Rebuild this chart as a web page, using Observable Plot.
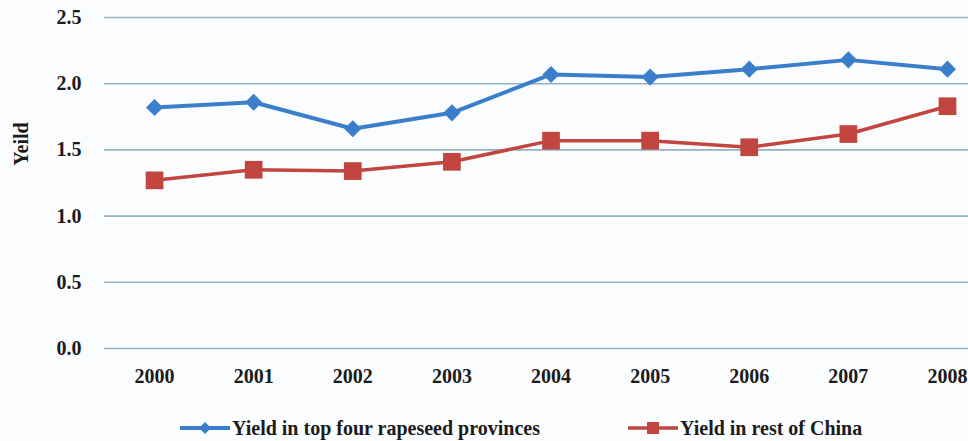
<!DOCTYPE html>
<html>
<head>
<meta charset="utf-8">
<script src="https://cdn.jsdelivr.net/npm/d3@7"></script>
<script src="https://cdn.jsdelivr.net/npm/@observablehq/plot@0.6"></script>
<style>
  html, body { margin: 0; padding: 0; background: #fbfcfe; font-family: "Liberation Serif", serif; }
  #chart { width: 968px; }
  .legend {
    position: relative; height: 41px; width: 968px;
    font-weight: bold; font-size: 20px; color: #1b1b1b;
  }
  .legend .item { position: absolute; top: 16px; display: flex; align-items: center; height: 24px; }
  .legend svg { display: block; margin-right: 2px; }
</style>
</head>
<body>
<div id="chart"></div>
<script>
// Rapeseed yield, 2000–2008
const years = [2000, 2001, 2002, 2003, 2004, 2005, 2006, 2007, 2008];
const topFourYield = [1.82, 1.86, 1.66, 1.78, 2.07, 2.05, 2.11, 2.18, 2.11];
const restOfChinaYield = [1.27, 1.35, 1.34, 1.41, 1.57, 1.57, 1.52, 1.62, 1.83];
const yTicks = [0, 0.5, 1.0, 1.5, 2.0, 2.5];
const seriesNames = ["Yield in top four rapeseed provinces", "Yield in rest of China"];

const blue = "#3b7fcb";
const red = "#c1463f";
const serif = "Liberation Serif";

const top4 = years.map((year, i) => ({year, value: topFourYield[i]}));
const rest = years.map((year, i) => ({year, value: restOfChinaYield[i]}));

const chart = Plot.plot({
  width: 968,
  height: 400,
  marginLeft: 104,
  marginRight: 0,
  marginTop: 17,
  marginBottom: 52,
  style: {background: "#fbfcfe", fontSize: "20px", fontWeight: "bold", color: "#1b1b1b"},
  x: {type: "linear", domain: [1999.495, 2008.212], ticks: years, tickFormat: "d", tickSize: 0, tickPadding: 20, label: null},
  y: {domain: [0, 2.5], ticks: yTicks, tickFormat: ".1f", tickSize: 0, tickPadding: 23, label: null},
  marks: [
    Plot.ruleY(yTicks, {stroke: "#93b2c2", strokeWidth: 1.6}),
    Plot.line(top4, {x: "year", y: "value", stroke: blue, strokeWidth: 4}),
    Plot.dot(top4, {x: "year", y: "value", symbol: "diamond2", r: 7.7, fill: blue, stroke: "none"}),
    Plot.line(rest, {x: "year", y: "value", stroke: red, strokeWidth: 3.5}),
    Plot.dot(rest, {x: "year", y: "value", symbol: "square", r: 10, fill: red, stroke: "none"}),
    Plot.text(["Yeild"], {frameAnchor: "left", textAnchor: "middle", dx: -83, dy: -39, rotate: -90, fontSize: 20, fontWeight: "bold"})
  ]
});
// serif face for every label in the chart
chart.style.fontFamily = serif;
d3.select(chart).selectAll("g, text").attr("font-family", serif);
document.getElementById("chart").appendChild(chart);

// Legend below the plot
const legend = d3.select("body").append("div").attr("class", "legend").style("font-family", serif);
const entries = [
  {name: seriesNames[0], color: blue, shape: "diamond", left: 180},
  {name: seriesNames[1], color: red, shape: "square", left: 628}
];
for (const e of entries) {
  const item = legend.append("div").attr("class", "item").style("left", e.left + "px");
  const svg = item.append("svg").attr("width", 50).attr("height", 24);
  svg.append("line").attr("x1", 0).attr("x2", 50).attr("y1", 12).attr("y2", 12)
    .attr("stroke", e.color).attr("stroke-width", e.shape === "diamond" ? 4 : 3.5);
  if (e.shape === "diamond") {
    svg.append("path").attr("d", "M25,6L31,12L25,18L19,12Z").attr("fill", e.color);
  } else {
    svg.append("rect").attr("x", 19).attr("y", 6).attr("width", 12).attr("height", 12).attr("fill", e.color);
  }
  item.append("span").style("font-family", serif).text(e.name);
}
</script>
</body>
</html>
